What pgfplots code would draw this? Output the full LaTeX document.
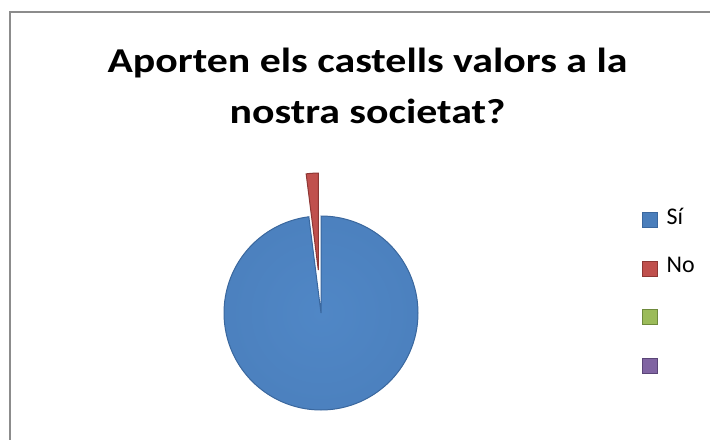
\documentclass[border=0pt]{standalone}
\usepackage{pgfplots}
\pgfplotsset{compat=1.18}
\usepackage{pgfplotstable}
\usepackage{fontspec}
\setmainfont{Carlito}

\definecolor{blau}{HTML}{4A7EBB}
\definecolor{blauclar}{HTML}{5087C6}
\definecolor{blaufosc}{HTML}{3A679E}
\definecolor{vermell}{HTML}{C0504D}
\definecolor{vermellfosc}{HTML}{8E3734}
\definecolor{verd}{HTML}{9BBB59}
\definecolor{verdfosc}{HTML}{6E8A3C}
\definecolor{lila}{HTML}{8064A2}
\definecolor{lilafosc}{HTML}{5A4577}

% ombrejat del pastís (vora més fosca)
\pgfdeclareradialshading{bisell}{\pgfpoint{0bp}{0bp}}{%
  color(0bp)=(blauclar); color(36bp)=(blau); color(47bp)=(blau!85!black);
  color(50bp)=(blaufosc)}

% respostes (%)
\pgfplotstableread{
resposta valor
Si 98
No 2
}\respostes

\begin{document}
\begin{tikzpicture}
\pgfplotstablegetelem{0}{valor}\of\respostes \let\valSi\pgfplotsretval
\pgfplotstablegetelem{1}{valor}\of\respostes \let\valNo\pgfplotsretval
% Excel comença a les 12 i va en sentit horari
\pgfmathsetmacro\angNo{90+360*\valNo/(\valSi+\valNo)}
\pgfmathsetmacro\angMig{(90+\angNo)/2}
\pgfmathsetmacro\cx{321}
\pgfmathsetmacro\cy{126}
\pgfmathsetmacro\rad{97}
\pgfmathsetmacro\ex{\cx+43*cos(\angMig)}
\pgfmathsetmacro\ey{\cy+43*sin(\angMig)}
\begin{axis}[
    width=710bp, height=439bp, scale only axis,
    xmin=0, xmax=710, ymin=0, ymax=439,
    hide axis, clip=false,
    legend style={
        at={(axis cs:642,233)},
        anchor=north west,
        draw=none, fill=none,
        font=\fontsize{24}{28}\selectfont,
        row sep=20.5bp,
        inner sep=0pt,
        nodes={inner sep=0bp, text height=18bp, text depth=10bp}
    },
    legend cell align=left,
    legend image code/.code={%
        \filldraw[#1,line width=0.8bp] (0bp,-7.5bp) rectangle (15bp,7.5bp);
        \path[draw=none,fill=none] (0bp,0bp) rectangle (24bp,0bp);},
]
\addplot[forget plot, shade, shading=bisell, draw=blaufosc, line width=1bp,
    domain=\angNo:450, samples=150, variable=\t]
    ({\cx+\rad*cos(\t)}, {\cy+\rad*sin(\t)}) -- (axis cs:\cx,\cy) -- cycle;
\addplot[forget plot, fill=vermell, draw=vermellfosc, line width=1bp,
    domain=90:\angNo, samples=10, variable=\t]
    ({\ex+\rad*cos(\t)}, {\ey+\rad*sin(\t)}) -- (axis cs:\ex,\ey) -- cycle;

\addlegendimage{fill=blau, draw=blaufosc}
\addlegendentry{Sí}
\addlegendimage{fill=vermell, draw=vermellfosc}
\addlegendentry{No}
\addlegendimage{fill=verd, draw=verdfosc}
\addlegendentry{\mbox{}}
\addlegendimage{fill=lila, draw=lilafosc}
\addlegendentry{\mbox{}}

\node[font=\fontsize{35}{42}\selectfont\bfseries, anchor=base, xscale=1.2] at (axis cs:367.5,366) {Aporten els castells valors a la};
\node[font=\fontsize{35}{42}\selectfont\bfseries, anchor=base, xscale=1.2] at (axis cs:367.5,315) {nostra societat?};

\draw[color=black!45, line width=2bp] (axis cs:10,-5) -- (axis cs:10,427) -- (axis cs:720,427);
\end{axis}
\pgfresetboundingbox
\path (current axis.south west) rectangle (current axis.north east);
\end{tikzpicture}
\end{document}
